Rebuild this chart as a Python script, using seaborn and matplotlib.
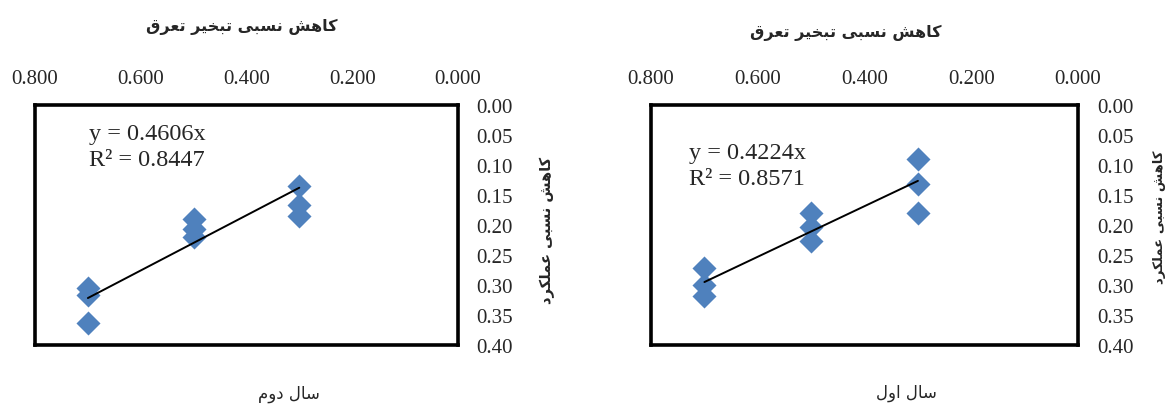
import matplotlib
matplotlib.use('Agg')
import matplotlib.pyplot as plt
import numpy as np
import pandas as pd
import seaborn as sns

# data
x_levels = [0.7, 0.7, 0.7, 0.5, 0.5, 0.5, 0.3, 0.3, 0.3]
y_year2 = [0.305, 0.318, 0.364, 0.190, 0.207, 0.220, 0.136, 0.167, 0.186]
y_year1 = [0.272, 0.300, 0.319, 0.181, 0.203, 0.227, 0.090, 0.132, 0.181]
slope_year2 = 0.4606
slope_year1 = 0.4224
r2_year2 = 0.8447
r2_year1 = 0.8571

x_ticks = [0.8, 0.6, 0.4, 0.2, 0.0]
y_ticks = [0.0, 0.05, 0.10, 0.15, 0.20, 0.25, 0.30, 0.35, 0.40]

title_text = 'کاهش نسبی تبخیر تعرق'
ylabel_text = 'کاهش نسبی عملکرد'
caption_year2 = 'سال دوم'
caption_year1 = 'سال اول'

# matplotlib has no arabic shaping, so map letters to presentation forms by hand
FORMS = {
    '\u0627': ('\uFE8D', '\uFE8E', None, None),
    '\u0628': ('\uFE8F', '\uFE90', '\uFE91', '\uFE92'),
    '\u062A': ('\uFE95', '\uFE96', '\uFE97', '\uFE98'),
    '\u062E': ('\uFEA5', '\uFEA6', '\uFEA7', '\uFEA8'),
    '\u062F': ('\uFEA9', '\uFEAA', None, None),
    '\u0631': ('\uFEAD', '\uFEAE', None, None),
    '\u0633': ('\uFEB1', '\uFEB2', '\uFEB3', '\uFEB4'),
    '\u0634': ('\uFEB5', '\uFEB6', '\uFEB7', '\uFEB8'),
    '\u0639': ('\uFEC9', '\uFECA', '\uFECB', '\uFECC'),
    '\u0642': ('\uFED5', '\uFED6', '\uFED7', '\uFED8'),
    '\u0644': ('\uFEDD', '\uFEDE', '\uFEDF', '\uFEE0'),
    '\u0645': ('\uFEE1', '\uFEE2', '\uFEE3', '\uFEE4'),
    '\u0646': ('\uFEE5', '\uFEE6', '\uFEE7', '\uFEE8'),
    '\u0647': ('\uFEE9', '\uFEEA', '\uFEEB', '\uFEEC'),
    '\u0648': ('\uFEED', '\uFEEE', None, None),
    '\u06CC': ('\uFBFC', '\uFBFD', '\uFBFE', '\uFBFF'),
    '\u06A9': ('\uFB8E', '\uFB8F', '\uFB90', '\uFB91'),
}


def shape(text):
    out = []
    for i, c in enumerate(text):
        if c not in FORMS:
            out.append(c)
            continue
        prev = text[i - 1] if i > 0 else None
        nxt = text[i + 1] if i + 1 < len(text) else None
        join_prev = prev in FORMS and FORMS[prev][2] is not None
        join_next = nxt in FORMS and FORMS[c][2] is not None
        iso, fin, ini, med = FORMS[c]
        if join_prev and join_next:
            out.append(med)
        elif join_prev:
            out.append(fin)
        elif join_next:
            out.append(ini)
        else:
            out.append(iso)
    return ''.join(reversed(out))


sns.set_style('white')
plt.rcParams['font.family'] = ['Liberation Serif', 'DejaVu Sans']

fig = plt.figure(figsize=(11.68, 4.06), dpi=100)
ax2 = fig.add_axes([0.030, 0.149, 0.362, 0.590])
ax1 = fig.add_axes([0.5574, 0.149, 0.3656, 0.590])

panels = [
    (ax2, y_year2, slope_year2, r2_year2, 0.128, 0.882, 0.772),
    (ax1, y_year1, slope_year1, r2_year1, 0.088, 0.800, 0.695),
]

for ax, yvals, slope, r2, tx, ty1, ty2 in panels:
    df = pd.DataFrame({'x': x_levels, 'y': yvals})
    sns.scatterplot(data=df, x='x', y='y', ax=ax, marker='D', s=150,
                    color='#4F81BD', linewidth=0, zorder=3)
    xl = np.array([max(x_levels), min(x_levels)])
    ax.plot(xl, slope * xl, color='black', lw=1.4, zorder=4)

    ax.set_xlim(0.8, 0.0)
    ax.set_ylim(0.4, 0.0)
    ax.xaxis.tick_top()
    ax.yaxis.tick_right()
    ax.set_xticks(x_ticks)
    ax.set_xticklabels(['%.3f' % v for v in x_ticks])
    ax.set_yticks(y_ticks)
    ax.set_yticklabels(['%.2f' % v for v in y_ticks])
    ax.tick_params(axis='x', length=0, pad=12, labelsize=15)
    ax.tick_params(axis='y', length=0, pad=13.5, labelsize=15)
    ax.set_xlabel('')
    ax.set_ylabel('')
    for sp in ax.spines.values():
        sp.set_visible(True)
        sp.set_color('black')
        sp.set_linewidth(2.6)

    ax.text(tx, ty1, 'y = %.4fx' % slope, transform=ax.transAxes,
            fontsize=17.5, va='center', ha='left')
    ax.text(tx, ty2, 'R² = %.4f' % r2, transform=ax.transAxes,
            fontsize=17.5, va='center', ha='left')

# titles, side labels and captions
arab = ['DejaVu Sans']
fig.text(242 / 1168, 1 - 27 / 406, shape(title_text), family=arab,
         fontweight='bold', fontsize=11.5, ha='center', va='center')
fig.text(846 / 1168, 1 - 33 / 406, shape(title_text), family=arab,
         fontweight='bold', fontsize=11.5, ha='center', va='center')
fig.text(547 / 1168, 1 - 230 / 406, shape(ylabel_text), family=arab,
         fontweight='bold', fontsize=10.5, rotation=90, ha='center', va='center')
fig.text(1160 / 1168, 1 - 217 / 406, shape(ylabel_text), family=arab,
         fontweight='bold', fontsize=9.5, rotation=90, ha='center', va='center')
fig.text(289 / 1168, 1 - 394 / 406, shape(caption_year2), family=arab,
         fontsize=12, ha='center', va='center')
fig.text(906 / 1168, 1 - 393 / 406, shape(caption_year1), family=arab,
         fontsize=12, ha='center', va='center')

fig.savefig('out.png', dpi=100)
